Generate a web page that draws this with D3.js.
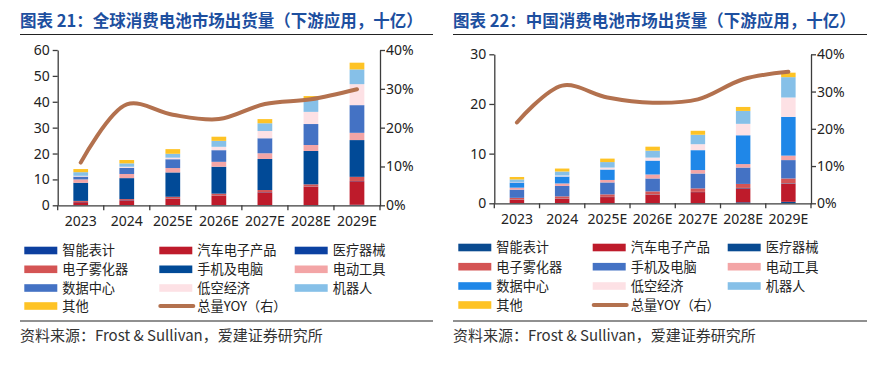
<!DOCTYPE html>
<html>
<head>
<meta charset="utf-8">
<script src="https://cdn.jsdelivr.net/npm/d3@7/dist/d3.min.js"></script>
<style>
  body { margin: 0; background: #fff; }
  svg { display: block; font-family: "Noto Sans CJK SC", "Noto Sans", sans-serif; }
</style>
</head>
<body>
<div id="chart"></div>
<script>
// categories and series
var years = ['2023', '2024', '2025E', '2026E', '2027E', '2028E', '2029E'];
var seriesNames = ['智能表计', '汽车电子产品', '医疗器械', '电子雾化器', '手机及电脑',
                   '电动工具', '数据中心', '低空经济', '机器人', '其他'];

// global shipments, billions (one row per series, same order as seriesNames)
var globalValues = [
  [0.1, 0.1, 0.1, 0.1, 0.1, 0.1, 0.2],
  [1.1, 1.8, 2.4, 3.5, 4.9, 7.0, 9.1],
  [0.1, 0.1, 0.1, 0.1, 0.1, 0.1, 0.1],
  [0.4, 0.4, 0.7, 0.8, 0.8, 0.9, 1.6],
  [7.0, 8.1, 9.4, 10.4, 12.0, 12.9, 14.2],
  [1.3, 1.6, 1.7, 1.9, 2.2, 2.3, 2.8],
  [1.1, 2.4, 3.4, 4.5, 5.8, 8.1, 10.7],
  [0.3, 0.4, 0.6, 1.3, 2.8, 4.7, 8.1],
  [1.4, 1.3, 1.5, 2.3, 3.0, 4.8, 5.7],
  [1.2, 1.3, 1.8, 1.6, 1.6, 1.3, 2.6]
];
var globalYoy = [0.110, 0.260, 0.233, 0.222, 0.261, 0.273, 0.299];

// china shipments, billions
var chinaValues = [
  [0.05, 0.05, 0.05, 0.05, 0.05, 0.2, 0.3],
  [0.65, 0.85, 1.2, 1.7, 2.2, 2.8, 3.6],
  [0.05, 0.05, 0.05, 0.05, 0.05, 0.1, 0.1],
  [0.35, 0.45, 0.5, 0.6, 0.7, 0.8, 1.0],
  [1.65, 2.1, 2.4, 2.6, 3.0, 3.3, 3.7],
  [0.4, 0.5, 0.5, 0.8, 0.7, 0.7, 0.9],
  [1.05, 1.4, 2.1, 2.8, 4.0, 5.8, 7.8],
  [0.1, 0.2, 0.4, 0.6, 1.2, 2.3, 3.9],
  [0.5, 0.8, 1.1, 1.4, 1.9, 2.6, 4.1],
  [0.5, 0.6, 0.7, 0.8, 0.8, 0.8, 0.9]
];
var chinaYoy = [0.217, 0.316, 0.284, 0.270, 0.279, 0.333, 0.353];

// tick labels
var globalTicks = [0, 10, 20, 30, 40, 50, 60];
var chinaTicks = [0, 10, 20, 30];
var yoyTicks = [0, 0.1, 0.2, 0.3, 0.4];

var globalColors = ['#0c3f9f', '#be1b2b', '#0b41a1', '#d45454', '#014a97',
                    '#f3a5a6', '#4472c4', '#fde1e5', '#86c0e8', '#fec325'];
var chinaColors = ['#0a4b90', '#be1b2b', '#084b92', '#d45454', '#4472c4',
                   '#f3a5a6', '#1f87e8', '#fde1e5', '#86c0e8', '#fec325'];
var lineColor = '#b3714e';
var axisColor = '#3c3c3c';

var svg = d3.select('#chart').append('svg')
  .attr('width', 892)
  .attr('height', 371);

svg.append('rect').attr('width', 892).attr('height', 371).attr('fill', '#fff');

function drawChart(opt) {
  var g = svg.append('g');

  // title + rule
  g.append('text')
    .attr('x', opt.titleX).attr('y', 27)
    .attr('fill', '#1d4f9f')
    .attr('font-size', 16.5)
    .attr('font-weight', 'bold')
    .text(opt.title);
  g.append('line')
    .attr('x1', opt.titleX).attr('x2', opt.ruleEnd)
    .attr('y1', 34.5).attr('y2', 34.5)
    .attr('stroke', '#222').attr('stroke-width', 1.2);

  var x = d3.scaleBand().domain(years).range([opt.left, opt.right]);
  var y = d3.scaleLinear().domain([0, d3.max(opt.ticks)]).range([opt.bottom, opt.top]);
  var y2 = d3.scaleLinear().domain([0, 0.4]).range([opt.bottom, opt.top]);

  var rows = years.map(function(yr, i) {
    var r = { year: yr };
    seriesNames.forEach(function(s, k) { r[s] = opt.values[k][i]; });
    return r;
  });
  var stacked = d3.stack().keys(seriesNames)(rows);

  var barW = x.bandwidth() * 0.32;
  g.append('g').selectAll('g')
    .data(stacked)
    .enter().append('g')
      .attr('fill', function(d, i) { return opt.colors[i]; })
    .selectAll('rect')
    .data(function(d) { return d; })
    .enter().append('rect')
      .attr('x', function(d) { return x(d.data.year) + (x.bandwidth() - barW) / 2; })
      .attr('width', barW)
      .attr('y', function(d) { return y(d[1]); })
      .attr('height', function(d) { return y(d[0]) - y(d[1]); });

  // axes
  var yAxis = g.append('g')
    .attr('transform', 'translate(' + opt.left + ',0)')
    .call(d3.axisLeft(y).tickValues(opt.ticks).tickSize(5).tickPadding(3).tickSizeOuter(0));
  var y2Axis = g.append('g')
    .attr('transform', 'translate(' + opt.right + ',0)')
    .call(d3.axisRight(y2).tickValues(yoyTicks).tickFormat(d3.format('.0%')).tickSize(5).tickPadding(1).tickSizeOuter(0));
  var xAxis = g.append('g')
    .attr('transform', 'translate(0,' + opt.bottom + ')')
    .call(d3.axisBottom(x).tickSize(0).tickPadding(11));

  // category boundary ticks
  var edges = years.map(function(d) { return x(d); }).concat([x.range()[1]]);
  xAxis.selectAll('.edge')
    .data(edges)
    .enter().append('line')
      .attr('class', 'edge')
      .attr('x1', function(d) { return d; }).attr('x2', function(d) { return d; })
      .attr('y1', 0).attr('y2', 5);

  [yAxis, y2Axis, xAxis].forEach(function(a) {
    a.selectAll('path, line').attr('stroke', axisColor).attr('stroke-width', 1.3);
    a.selectAll('text').attr('fill', '#222').attr('font-size', 14)
      .attr('font-family', '"Noto Sans", "Noto Sans CJK SC", sans-serif');
  });

  // yoy line
  var line = d3.line()
    .x(function(d, i) { return x(years[i]) + x.bandwidth() / 2; })
    .y(function(d) { return y2(d); })
    .curve(d3.curveCatmullRom.alpha(0.5));
  g.append('path')
    .datum(opt.yoy)
    .attr('d', line)
    .attr('fill', 'none')
    .attr('stroke', lineColor)
    .attr('stroke-width', 4)
    .attr('stroke-linecap', 'round');

  // legend
  var legendItems = seriesNames.map(function(s, i) { return { name: s, color: opt.colors[i], kind: 'bar' }; });
  legendItems.push({ name: '总量YOY（右）', color: lineColor, kind: 'line' });
  var leg = g.append('g').selectAll('g')
    .data(legendItems)
    .enter().append('g')
      .attr('transform', function(d, i) {
        return 'translate(' + opt.legendCols[i % 3] + ',' + opt.legendRows[Math.floor(i / 3)] + ')';
      });
  leg.filter(function(d) { return d.kind === 'bar'; })
    .append('rect')
      .attr('x', 0).attr('y', -3.8).attr('width', 33).attr('height', 7.6)
      .attr('fill', function(d) { return d.color; });
  leg.filter(function(d) { return d.kind === 'line'; })
    .append('line')
      .attr('x1', 1).attr('x2', 34).attr('y1', 0).attr('y2', 0)
      .attr('stroke', function(d) { return d.color; })
      .attr('stroke-width', 4).attr('stroke-linecap', 'round');
  leg.append('text')
    .attr('x', 38).attr('y', 4.8)
    .attr('font-size', 13.2)
    .attr('fill', '#222')
    .text(function(d) { return d.name; });

  // source
  g.append('line')
    .attr('x1', opt.titleX).attr('x2', opt.ruleEnd)
    .attr('y1', 321).attr('y2', 321)
    .attr('stroke', '#222').attr('stroke-width', 1.2);
  g.append('text')
    .attr('x', opt.titleX).attr('y', 340.5)
    .attr('font-size', 15)
    .attr('fill', '#333')
    .text('资料来源：Frost & Sullivan，爱建证券研究所');
}

drawChart({
  title: '图表 21：全球消费电池市场出货量（下游应用，十亿）',
  titleX: 20, ruleEnd: 433,
  left: 57.7, right: 380, top: 50, bottom: 205.3,
  values: globalValues, yoy: globalYoy, ticks: globalTicks, colors: globalColors,
  legendCols: [24.3, 159.3, 294.7],
  legendRows: [250.5, 269.3, 288, 306]
});

drawChart({
  title: '图表 22：中国消费电池市场出货量（下游应用，十亿）',
  titleX: 453, ruleEnd: 867,
  left: 494.3, right: 811, top: 54.3, bottom: 203.3,
  values: chinaValues, yoy: chinaYoy, ticks: chinaTicks, colors: chinaColors,
  legendCols: [458.3, 592.7, 727.7],
  legendRows: [247.5, 266.7, 286, 305]
});
</script>
</body>
</html>
